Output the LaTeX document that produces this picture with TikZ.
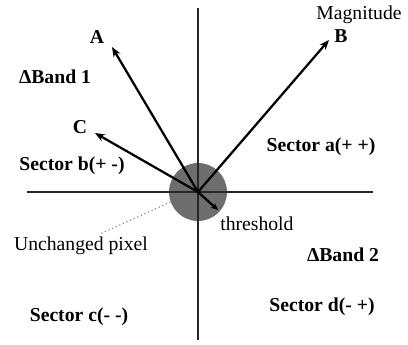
\documentclass[tikz,border=0pt]{standalone}
\usepackage{fontspec}
\setmainfont{Liberation Serif}
\usetikzlibrary{arrows.meta, positioning}
\definecolor{pixelgray}{HTML}{6E6E6E}

\begin{document}
\begin{tikzpicture}[>={Stealth[length=7pt, width=5.5pt]}, font=\fontsize{14}{16}\selectfont,
  vec/.style={->, line width=1.6pt},
  axis/.style={line width=1pt, black!85},
  sector/.style={font=\fontsize{14}{16}\selectfont\bfseries}]
  \useasboundingbox (-4.95,-3.8) rectangle (5.25,4.8);
  % Osy
  \coordinate (O) at (0,0);
  \coordinate (top) at (0,4.6);
  \coordinate (bottom) at (0,-3.7);
  \coordinate (left) at (-4.275,0);
  \coordinate (right) at (4.375,0);
  % Neměnný pixel
  \node[circle, fill=pixelgray, minimum size=1.45cm, inner sep=0pt] (pix) at (O) {};
  \draw[axis] (left) -- (right);
  \draw[axis] (top) -- (bottom);
  % Vektory
  \coordinate (tipA) at (-2.15,3.625);
  \coordinate (tipB) at (3.275,3.8);
  \coordinate (tipC) at (-2.575,1.475);
  \coordinate (tipT) at (0.5,-0.45);
  \draw[vec] (O) -- (tipA);
  \draw[vec] (O) -- (tipB);
  \draw[vec] (O) -- (tipC);
  \draw[vec, >={Stealth[length=5pt, width=4.5pt]}] (O) -- (tipT);
  \node (labA) at (-2.525,3.875) {\textbf{A}};
  \node (labB) at (3.575,3.9) {\textbf{B}};
  \node (labC) at (-2.95,1.625) {\textbf{C}};
  \node (mag) at (4.025,4.425) {Magnitude};
  % Popis
  \node[sector] (band1) at (-3.575,2.875) {ΔBand 1};
  \node[sector] (band2) at (3.625,-1.575) {ΔBand 2};
  \node[sector] (secA) at (3.075,1.125) {Sector a(+ +)};
  \node[sector] (secB) at (-3.15,0.65) {Sector b(+ -)};
  \node[sector] (secC) at (-2.975,-3.125) {Sector c(- -)};
  \node[sector] (secD) at (3.1,-2.875) {Sector d(- +)};
  \node[right, inner sep=0pt] (thr) at (0.55,-0.8) {threshold};
  \node (unch) at (-2.925,-1.35) {Unchanged pixel};
  \coordinate (unchEnd) at (-2.45,-1.05);
  \draw[gray, dotted, line width=0.8pt] (pix.200) -- (unchEnd);
\end{tikzpicture}
\end{document}
